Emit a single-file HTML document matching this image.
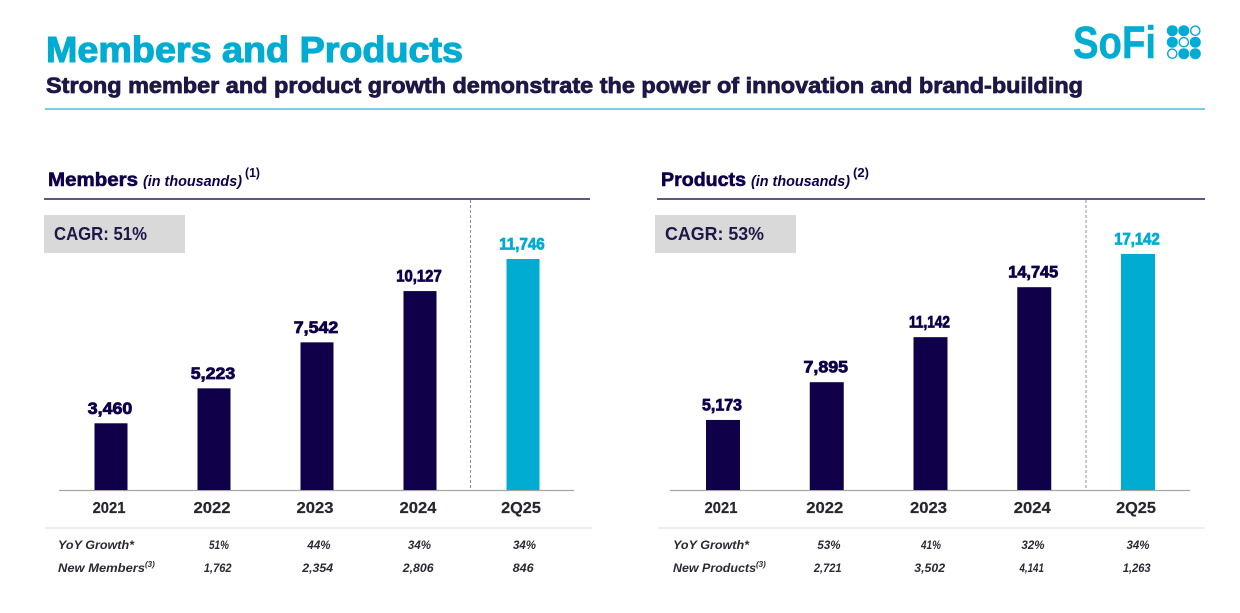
<!DOCTYPE html>
<html lang="en">
<head>
<meta charset="utf-8">
<title>Members and Products</title>
<style>
html,body{margin:0;padding:0;background:#fff;width:1240px;height:613px;overflow:hidden}
svg{display:block}
text{font-family:"Liberation Sans",sans-serif}
.b{font-weight:700}
.bi{font-weight:700;font-style:italic}
</style>
</head>
<body>
<svg id="slide" width="1240" height="613" viewBox="0 0 1240 613" xmlns="http://www.w3.org/2000/svg">
  <rect width="1240" height="613" fill="#fff"/>
  <text class="b" x="46" y="62" font-size="36" fill="#00acd2" stroke="#00acd2" stroke-width="1.1" textLength="417" lengthAdjust="spacingAndGlyphs">Members and Products</text>
  <text class="b" x="46" y="93" font-size="22.5" fill="#1f1746" stroke="#1f1746" stroke-width=".8" textLength="1037" lengthAdjust="spacingAndGlyphs">Strong member and product growth demonstrate the power of innovation and brand-building</text>
  <line x1="45" x2="1205" y1="109" y2="109" stroke="#4dbfd9" stroke-width="1.4"/>

  <g>
    <text class="b" x="1073" y="58" font-size="45" fill="#00acd2" stroke="#00acd2" stroke-width=".5" textLength="83" lengthAdjust="spacingAndGlyphs">SoFi</text>
    <g id="logoDots"></g>
  </g>

  <text x="48" y="186" fill="#10004a"><tspan class="b" font-size="19.5" stroke="#10004a" stroke-width=".6" textLength="90" lengthAdjust="spacingAndGlyphs">Members</tspan><tspan class="bi" x="143" font-size="14.5" textLength="99" lengthAdjust="spacingAndGlyphs">(in thousands)</tspan><tspan x="245" y="177" font-size="13" font-weight="700" textLength="15" lengthAdjust="spacingAndGlyphs">(1)</tspan></text>
  <text x="661" y="186" fill="#10004a"><tspan class="b" font-size="19.5" stroke="#10004a" stroke-width=".6" textLength="85" lengthAdjust="spacingAndGlyphs">Products</tspan><tspan class="bi" x="751" font-size="14.5" textLength="99" lengthAdjust="spacingAndGlyphs">(in thousands)</tspan><tspan x="853" y="177" font-size="13" font-weight="700" textLength="16" lengthAdjust="spacingAndGlyphs">(2)</tspan></text>

  <line x1="44" x2="590" y1="199" y2="199" stroke="#2a1f5c" stroke-width="1.5"/>
  <line x1="657" x2="1205" y1="199" y2="199" stroke="#2a1f5c" stroke-width="1.5"/>
  <line x1="470.5" x2="470.5" y1="200" y2="490" stroke="#8f8f8f" stroke-width="1" stroke-dasharray="3 2"/>
  <line x1="1086" x2="1086" y1="200" y2="490" stroke="#8f8f8f" stroke-width="1" stroke-dasharray="3 2"/>

  <g>
    <rect x="44" y="215" width="141" height="38" fill="#d9d9d9"/>
    <text class="b" x="54" y="240" font-size="18" fill="#1f1746" textLength="93" lengthAdjust="spacingAndGlyphs">CAGR: 51%</text>
  </g>
  <g>
    <rect x="655" y="215" width="141" height="38" fill="#d9d9d9"/>
    <text class="b" x="665" y="240" font-size="18" fill="#1f1746" textLength="99" lengthAdjust="spacingAndGlyphs">CAGR: 53%</text>
  </g>

  <line x1="59" x2="574" y1="490.5" y2="490.5" stroke="#a6a6a6" stroke-width="1.3"/>
  <line x1="670" x2="1190" y1="490.5" y2="490.5" stroke="#a6a6a6" stroke-width="1.3"/>
  <line x1="45" x2="592" y1="528" y2="528" stroke="#e2e2ea" stroke-width="1.3"/>
  <line x1="658" x2="1205" y1="528" y2="528" stroke="#e2e2ea" stroke-width="1.3"/>

  <g id="membersPlot"></g>
  <g id="productsPlot"></g>

  <text class="bi" x="58" y="549" font-size="11.5" fill="#2a2a33" textLength="76" lengthAdjust="spacingAndGlyphs">YoY Growth*</text>
  <text class="bi" x="58" y="572" font-size="11.5" fill="#2a2a33"><tspan textLength="87" lengthAdjust="spacingAndGlyphs">New Members</tspan><tspan x="145" y="567" font-size="8">(3)</tspan></text>
  <text class="bi" x="673" y="549" font-size="11.5" fill="#2a2a33" textLength="76" lengthAdjust="spacingAndGlyphs">YoY Growth*</text>
  <text class="bi" x="673" y="572" font-size="11.5" fill="#2a2a33"><tspan textLength="83" lengthAdjust="spacingAndGlyphs">New Products</tspan><tspan x="756" y="567" font-size="8">(3)</tspan></text>
</svg>

<script>
const categories = ['2021', '2022', '2023', '2024', '2Q25'];
const membersValues = [3460, 5223, 7542, 10127, 11746];
const productsValues = [5173, 7895, 11142, 14745, 17142];
const membersYoY = ['51%', '44%', '34%', '34%'];
const productsYoY = ['53%', '41%', '32%', '34%'];
const membersNew = [1762, 2354, 2806, 846];
const productsNew = [2721, 3502, 4141, 1263];

const NS = 'http://www.w3.org/2000/svg';
const BASE_Y = 490;
const NAVY = '#10004a';
const CYAN = '#00acd2';
const fmt = function (n) { return n.toLocaleString('en-US'); };

function make(tag, parent, attrs, txt) {
  const el = document.createElementNS(NS, tag);
  for (const k in attrs) el.setAttribute(k, attrs[k]);
  if (txt !== undefined) el.textContent = txt;
  parent.appendChild(el);
  return el;
}

/* Estimated width of a label in the reference's wide display face, where "1" is narrow. */
function labelWidth(s, digit) {
  let w = 0;
  for (const ch of s) {
    if (ch === '1') w += digit * 0.55;
    else if (ch === ',') w += digit * 0.4;
    else if (ch === '%') w += digit * 1.3;
    else if (ch === 'Q') w += digit * 1.3;
    else w += digit;
  }
  return w;
}

function yMembers(v) { return 491.9 - v * 0.01983; }
function yProducts(v) { return 491.7 - v * 0.01387; }
function xMembers(i) { return 111 + i * 103; }
function xProducts(i) { return 723 + i * 103.75; }
function xMembersCol(i) { return [219, 319, 419.5, 524.5][i]; }
function xProductsCol(i) { return [829, 931, 1033, 1138][i]; }

function drawChart(prefix, parent, values, yoy, added, xScale, yScale, colScale, barW) {
  values.forEach(function (v, i) {
    const last = i === values.length - 1;
    const color = last ? CYAN : NAVY;
    const cx = xScale(i);
    const top = yScale(v);

    const bar = make('rect', parent, { x: cx - barW / 2, y: top, width: barW, height: BASE_Y - top, fill: color });
    
    

    const label = fmt(v);
    const val = make('text', parent, {
      x: cx - 1, y: top - 9.5, 'text-anchor': 'middle', 'font-size': 16.5, 'font-weight': 700,
      fill: color, stroke: color, 'stroke-width': '.8',
      textLength: labelWidth(label, 10.1), lengthAdjust: 'spacingAndGlyphs'
    }, label);
    
    

    const cat = make('text', parent, {
      x: cx - 2, y: 513, 'text-anchor': 'middle', 'font-size': 15.5, 'font-weight': 700,
      fill: '#26262e', stroke: '#26262e', 'stroke-width': '.2',
      textLength: labelWidth(categories[i], 9.25), lengthAdjust: 'spacingAndGlyphs'
    }, categories[i]);
    
    
  });

  yoy.forEach(function (t, i) {
    const cell = make('text', parent, {
      x: colScale(i), y: 549, 'text-anchor': 'middle', 'font-size': 11.5, 'font-weight': 700,
      'font-style': 'italic', fill: '#2a2a33',
      textLength: labelWidth(t, 7), lengthAdjust: 'spacingAndGlyphs'
    }, t);
    
    
  });

  added.forEach(function (n, i) {
    const label = fmt(n);
    const cell = make('text', parent, {
      x: colScale(i) - 1.3, y: 572, 'text-anchor': 'middle', 'font-size': 11.5, 'font-weight': 700,
      'font-style': 'italic', fill: '#2a2a33',
      textLength: labelWidth(label, 7), lengthAdjust: 'spacingAndGlyphs'
    }, label);
    
    
  });
}

drawChart('members', document.getElementById('membersPlot'), membersValues, membersYoY, membersNew, xMembers, yMembers, xMembersCol, 33);
drawChart('products', document.getElementById('productsPlot'), productsValues, productsYoY, productsNew, xProducts, yProducts, xProductsCol, 34);

const dotsGroup = document.getElementById('logoDots');
for (let r = 0; r < 3; r++) {
  for (let c = 0; c < 3; c++) {
    const hollow = r + c === 2;
    const dot = make('circle', dotsGroup, {
      cx: 1172.3 + c * 11.5,
      cy: 30.7 + r * 11.5,
      r: hollow ? 4.6 : 5.5,
      fill: hollow ? '#fff' : CYAN,
      stroke: hollow ? CYAN : 'none',
      'stroke-width': hollow ? 1.4 : 0
    });
    
    
  }
}
</script>
</body>
</html>
